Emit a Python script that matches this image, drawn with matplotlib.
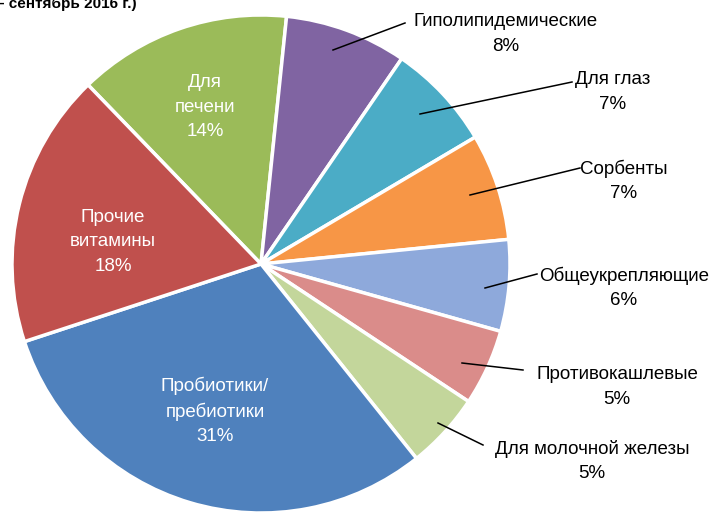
import matplotlib
matplotlib.use("Agg")
import matplotlib.pyplot as plt

# -------------------------------------------------------------------
# DATA
# -------------------------------------------------------------------
categories = [
    "Для\nпечени", "Гиполипидемические", "Для глаз", "Сорбенты",
    "Общеукрепляющие", "Противокашлевые", "Для молочной железы",
    "Пробиотики/\nпребиотики", "Прочие\nвитамины",
]
shares = [14, 8, 7, 7, 6, 5, 5, 31, 18]
colors = ["#9BBB59", "#8064A2", "#4BACC6", "#F79646", "#8EA9DB",
          "#DA8C8A", "#C3D69B", "#4F81BD", "#C0504D"]

W, H = 711, 513
FONT = ["Liberation Sans", "DejaVu Sans"]

fig = plt.figure(figsize=(W / 100, H / 100), dpi=100)
ax = fig.add_axes([0, 0, 1, 1])


def py(y):
    # pixel row (top-down) -> data y (bottom-up)
    return H - y


ax.pie(shares, colors=colors, startangle=134, counterclock=False,
       radius=249, center=(261, py(264)), frame=True,
       wedgeprops=dict(edgecolor="white", linewidth=2.5))
ax.set_xlim(0, W)
ax.set_ylim(0, H)
ax.set_aspect("equal")
ax.axis("off")

# labels inside the three large slices
inside = {0: (205, 107), 8: (113, 242), 7: (215, 411)}
for i, (x, y) in inside.items():
    ax.text(x, py(y), f"{categories[i]}\n{shares[i]}%", color="white",
            ha="center", va="center", fontsize=13.5, family=FONT,
            linespacing=1.55)

# outside labels with leader lines: (text centre, line start, line end)
outside = {
    1: ((506, 34), (333, 50), (405, 23)),
    2: ((613, 92), (420, 114), (572, 82)),
    3: ((624, 181), (470, 195), (580, 168)),
    4: ((624, 288), (485, 288), (537, 274)),
    5: ((617, 387), (462, 363), (523, 370)),
    6: ((592, 461), (438, 423), (483, 445)),
}
for i, (txt, p0, p1) in outside.items():
    ax.plot([p0[0], p1[0]], [py(p0[1]), py(p1[1])], color="black", lw=1.1)
    ax.text(txt[0], py(txt[1]), f"{categories[i]}\n{shares[i]}%",
            color="black", ha="center", va="center", fontsize=13.5,
            family=FONT, linespacing=1.55)

# cut-off heading from the page
ax.text(-4, py(4), "– сентябрь 2016 г.)", fontsize=11, fontweight="bold",
        family=FONT, ha="left", va="center")

fig.savefig("out.png", dpi=100)
